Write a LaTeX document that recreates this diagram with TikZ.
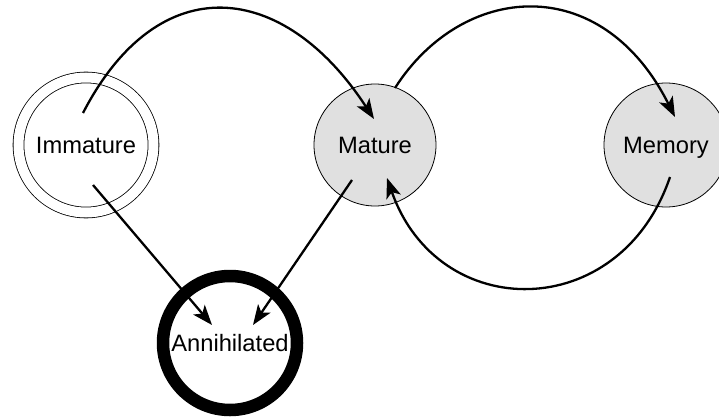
\documentclass[tikz,border=0pt]{standalone}
\usepackage{fontspec}
\setmainfont{Liberation Sans}
\usepackage{xcolor}
\usepackage{tikz}
\usetikzlibrary{arrows.meta,calc}

\definecolor{cellgray}{HTML}{E0E0E0}

\begin{document}
\begin{tikzpicture}[
        x=1pt, y=-1pt,
        every node/.style={circle,draw=black,line width=0.8pt,inner sep=0pt,
          text height=17pt,text depth=0pt,font=\fontsize{23.7}{28}\selectfont},
        stage/.style={fill=cellgray,minimum size=122pt},
        fresh/.style={double,double distance=10pt,minimum size=135pt},
        dead/.style={line width=12.5pt,minimum size=134pt},
        trans/.style={-{Stealth[length=20pt,width=15pt,inset=5pt]},line width=2.3pt},
        ]
      \useasboundingbox (0,0) rectangle (719,417);

      \node [fresh] (immature) at (86,145) {Immature};
      \node [stage] (mature) at (375,145) {Mature};
      \node [stage, minimum size=124pt] (memory) at (666,145) {Memory};
      \node [dead] (annihilated) at (230,343) {Annihilated};

      \draw[trans] ([shift={(-3,-32)}]immature.center)
          .. controls (159,-34) and (284,-19) .. ([shift={(-1,-26)}]mature.center);
      \draw[trans] ([shift={(20,-57)}]mature.center)
          .. controls (462,-17) and (601,-30) .. ([shift={(9,-28)}]memory.center);
      \draw[trans] ([shift={(4,32)}]memory.center)
          .. controls (620,324) and (438,324) .. ([shift={(12,33)}]mature.center);
      \draw[trans] ([shift={(7,40)}]immature.center) -- ([shift={(-18,-18)}]annihilated.center);
      \draw[trans] ([shift={(-23,35)}]mature.center) -- ([shift={(23,-18)}]annihilated.center);
    \end{tikzpicture}
\end{document}
